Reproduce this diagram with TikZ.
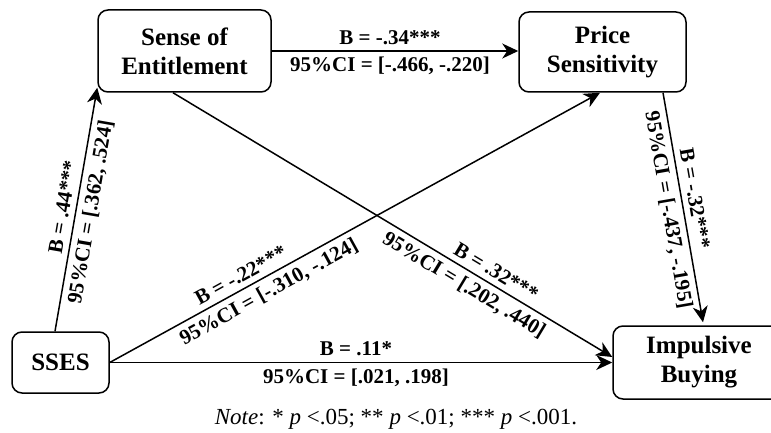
\documentclass[tikz,border=0pt]{standalone}
\usepackage{fontspec}
\setmainfont{Liberation Serif}
\usetikzlibrary{arrows.meta}
\begin{document}
\begin{tikzpicture}[x=1pt,y=1pt,
  box/.style={draw, line width=1.5pt, rounded corners=10pt, inner sep=0pt, align=center,
    font=\fontsize{25}{29}\selectfont\bfseries},
  arr/.style={line width=1.5pt, -{Stealth[length=16pt,width=15pt,inset=5pt]}},
  lab/.style={font=\fontsize{21}{25}\selectfont\bfseries, inner sep=5.5pt},
]
\useasboundingbox (0,0) rectangle (771,432);
\node[box, minimum width=173pt, minimum height=82pt] (sense) at (184.5,381) {Sense of\\Entitlement};
\node[box, minimum width=167pt, minimum height=80pt] (price) at (602.5,380) {Price\\Sensitivity};
\node[box, minimum width=97pt, minimum height=61pt] (sses) at (60.5,69.5) {SSES};
\node[box, minimum width=172pt, minimum height=73pt] (imp) at (699,69.5) {Impulsive\\Buying};

\draw[arr] ([xshift=-5.5pt]sses.north) -- ([yshift=5pt]sense.south west)
  node[lab, midway, above, sloped] (l1a) {B = .44***}
  node[lab, midway, below, sloped] (l1b) {95\%CI = [.362, .524]};
\draw[arr] (sense.east) -- (sense.east -| price.west)
  node[lab, pos=0.48, above] (l2a) {B = -.34***}
  node[lab, pos=0.48, below] (l2b) {95\%CI = [-.466, -.220]};
\draw[arr] (sses.east) -- ([xshift=-2.5pt]price.south)
  node[lab, pos=0.28, above, sloped] (l3a) {B = -.22***}
  node[lab, pos=0.31, below, sloped] (l3b) {95\%CI = [-.310, -.124]};
\draw[arr] ([xshift=-11.5pt]sense.south) -- ([yshift=5.5pt]imp.west)
  node[lab, pos=0.72, above, sloped] (l4a) {B = .32***}
  node[lab, pos=0.68, below, sloped] (l4b) {95\%CI = [.202, .440]};
\draw[arr] ([xshift=60.5pt]price.south) -- ([shift={(4pt,3pt)}]imp.north)
  node[lab, pos=0.47, above, sloped] (l5a) {B = -.32***}
  node[lab, pos=0.5, below, sloped] (l5b) {95\%CI = [-.437, -.195]};
\draw[arr] (sses.east) -- (sses.east -| imp.west)
  node[lab, pos=0.49, above] (l6a) {B = .11*}
  node[lab, pos=0.49, below] (l6b) {95\%CI = [.021, .198]};

\node[font=\fontsize{23}{27}\selectfont, anchor=base] (note) at (396,8)
  {\textit{Note}: * \textit{p} <.05; ** \textit{p} <.01; *** \textit{p} <.001.};
\end{tikzpicture}
\end{document}
